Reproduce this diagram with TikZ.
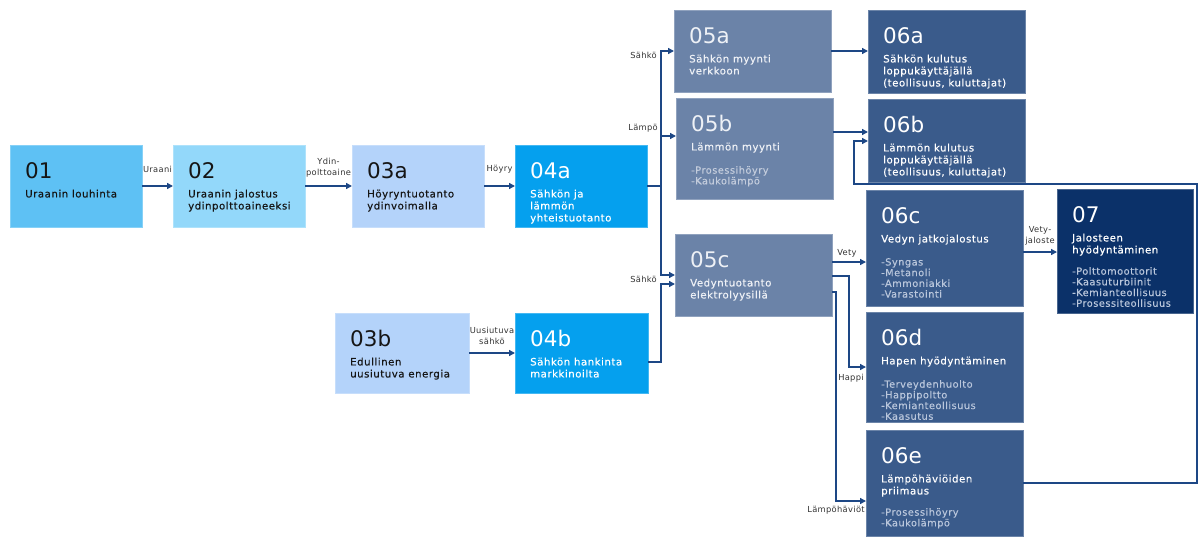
\documentclass[tikz,border=0pt]{standalone}
\usepackage{fontspec}
\setmainfont{DejaVu Sans}
\newfontfamily\lblfont[LetterSpace=5,FakeBold=0.3]{DejaVu Sans}
\newfontfamily\edgefont[LetterSpace=4]{DejaVu Sans}
\usetikzlibrary{arrows.meta,calc}
\definecolor{cA}{HTML}{5EC1F4}
\definecolor{cB}{HTML}{93D8FA}
\definecolor{cC}{HTML}{B4D3FA}
\definecolor{cD}{HTML}{05A0EE}
\definecolor{cE}{HTML}{6B83A8}
\definecolor{cF}{HTML}{3A5B8B}
\definecolor{cG}{HTML}{0B3169}
\definecolor{carrow}{HTML}{1D4785}
\definecolor{ctxt}{HTML}{151515}
\definecolor{celbl}{HTML}{333333}
\definecolor{cwE}{HTML}{EEF1F6}
\definecolor{clistE}{HTML}{C3CCDC}
\definecolor{clistF}{HTML}{BAC7DC}
\newcommand\bx[6]{\node[box, fill=#6, draw=#6!75!white, minimum width=#4pt, minimum height=#5pt] (#1) at (#2,#3) {};}
\newcommand\bnum[3]{\node[num, text=#3] (#1n) at ($(#1.north west)+(15,33)$) {#2};}
\newcommand\blbl[3]{\node[lbl, text=#3] (#1l) at ($(#1.north west)+(15,44.5)$) {#2};}
\newcommand\blst[4]{\node[lst, text=#4] (#1s) at ($(#1.north west)+(15,#2)$) {#3};}
\tikzset{
  box/.style={rectangle, inner sep=0pt, outer sep=0pt, anchor=north west, line width=0.7pt},
  num/.style={anchor=base west, inner sep=0pt, font=\fontsize{21.5}{21.5}\selectfont},
  lbl/.style={anchor=north west, inner sep=0pt, align=left, font=\lblfont\fontsize{10.2}{12}\selectfont},
  lst/.style={anchor=north west, inner sep=0pt, align=left, font=\lblfont\fontsize{9.8}{10.7}\selectfont},
  elbl/.style={inner sep=0pt, align=center, text=celbl, font=\edgefont\fontsize{8.3}{11}\selectfont},
  line/.style={draw=carrow, line width=1.4pt},
  arr/.style={line, -{Triangle[length=6pt,width=6pt]}}
}
\begin{document}
\begin{tikzpicture}[x=1pt,y=-1pt]
\useasboundingbox (0,0) rectangle (1199,536);
% boxes
\bx{b01}{10}{145}{132}{82}{cA}
\bnum{b01}{01}{ctxt}
\blbl{b01}{Uraanin louhinta}{ctxt}
\bx{b02}{173}{145}{132}{82}{cB}
\bnum{b02}{02}{ctxt}
\blbl{b02}{Uraanin jalostus\\ydinpolttoaineeksi}{ctxt}
\bx{b03a}{352}{145}{132}{82}{cC}
\bnum{b03a}{03a}{ctxt}
\blbl{b03a}{Höyryntuotanto\\ydinvoimalla}{ctxt}
\bx{b04a}{515}{145}{132}{82}{cD}
\bnum{b04a}{04a}{white}
\blbl{b04a}{Sähkön ja\\lämmön\\yhteistuotanto}{white}
\bx{b03b}{335}{313}{134}{80}{cC}
\bnum{b03b}{03b}{ctxt}
\blbl{b03b}{Edullinen\\uusiutuva energia}{ctxt}
\bx{b04b}{515}{313}{133}{80}{cD}
\bnum{b04b}{04b}{white}
\blbl{b04b}{Sähkön hankinta\\markkinoilta}{white}
\bx{b05a}{674}{10}{157}{82}{cE}
\bnum{b05a}{05a}{cwE}
\blbl{b05a}{Sähkön myynti\\verkkoon}{cwE}
\bx{b05b}{676}{98}{157}{101}{cE}
\bnum{b05b}{05b}{cwE}
\blbl{b05b}{Lämmön myynti}{cwE}
\blst{b05b}{68}{-Prosessihöyry\\-Kaukolämpö}{clistE}
\bx{b05c}{675}{234}{157}{82}{cE}
\bnum{b05c}{05c}{cwE}
\blbl{b05c}{Vedyntuotanto\\elektrolyysillä}{cwE}
\bx{b06a}{868}{10}{157}{83}{cF}
\bnum{b06a}{06a}{white}
\blbl{b06a}{Sähkön kulutus\\loppukäyttäjällä\\(teollisuus, kuluttajat)}{white}
\bx{b06b}{868}{99}{157}{83}{cF}
\bnum{b06b}{06b}{white}
\blbl{b06b}{Lämmön kulutus\\loppukäyttäjällä\\(teollisuus, kuluttajat)}{white}
\bx{b06c}{866}{190}{157}{116}{cF}
\bnum{b06c}{06c}{white}
\blbl{b06c}{Vedyn jatkojalostus}{white}
\blst{b06c}{68}{-Syngas\\-Metanoli\\-Ammoniakki\\-Varastointi}{clistF}
\bx{b06d}{866}{312}{157}{110}{cF}
\bnum{b06d}{06d}{white}
\blbl{b06d}{Hapen hyödyntäminen}{white}
\blst{b06d}{68}{-Terveydenhuolto\\-Happipoltto\\-Kemianteollisuus\\-Kaasutus}{clistF}
\bx{b06e}{866}{430}{157}{106}{cF}
\bnum{b06e}{06e}{white}
\blbl{b06e}{Lämpöhäviöiden\\priimaus}{white}
\blst{b06e}{78}{-Prosessihöyry\\-Kaukolämpö}{clistF}
\bx{b07}{1057}{189}{136}{124}{cG}
\bnum{b07}{07}{white}
\blbl{b07}{Jalosteen\\hyödyntäminen}{white}
\blst{b07}{78}{-Polttomoottorit\\-Kaasuturbiinit\\-Kemianteollisuus\\-Prosessiteollisuus}{clistF}
% connectors
\coordinate (bus) at ($(b04a.east)+(14,0)$);
\draw[arr] (b01.east) -- (b02.west);
\draw[arr] (b02.east) -- (b03a.west);
\draw[arr] (b03a.east) -- (b04a.west);
\draw[arr] (b03b.east) -- (b04b.west);
\draw[line] (b04a.east) -- (bus);
\draw[arr] (bus) |- (b05a.west);
\draw[arr] (bus) |- ($(b05b.north west)+(0,38)$);
\draw[arr] (bus) |- (b05c.west);
\draw[arr] ($(b04b.east)+(0,9)$) -| ($(bus |- b05c.west)+(0,9)$) -- ($(b05c.west)+(0,9)$);
\draw[arr] (b05a.east) -- (b05a.east -| b06a.west);
\coordinate (p5b) at ($(b05b.north east)+(0,34)$);
\draw[arr] (p5b) -- (p5b -| b06b.west);
\coordinate (pv) at ($(b05c.north east)+(0,28)$);
\draw[arr] (pv) -- (pv -| b06c.west);
\draw[arr] ($(b05c.north east)+(0,42)$) -| ($(b06d.west)+(-17,0)$) -- (b06d.west);
\draw[arr] ($(b05c.north east)+(0,58)$) -| ($(b06e.north west)+(-30,71)$) -- ($(b06e.north west)+(0,71)$);
\coordinate (loop) at (1197,184);
\draw[arr] (b06e.east) -| (loop) -| ($(b06b.north west)+(-14,42)$) -- ($(b06b.north west)+(0,42)$);
\coordinate (pj) at ($(b06c.north east)+(0,62)$);
\draw[arr] (pj) -- (pj -| b07.west);
% connector labels
\node[elbl] (lU) at ($(b01.east)!0.5!(b02.west)+(0,-17)$) {Uraani};
\node[elbl] (lY) at ($(b02.east)!0.5!(b03a.west)+(0,-18)$) {Ydin-\\polttoaine};
\node[elbl] (lHo) at ($(b03a.east)!0.5!(b04a.west)+(0,-17)$) {Höyry};
\node[elbl] (lUs) at ($(b03b.east)!0.5!(b04b.west)+(0,-17)$) {Uusiutuva\\sähkö};
\node[elbl, anchor=east] (lS1) at ($(bus |- b05a.west)+(-4,4)$) {Sähkö};
\node[elbl, anchor=east] (lL) at ($(bus |- b05b.north west)+(-3,30)$) {Lämpö};
\node[elbl, anchor=east] (lS2) at ($(bus |- b05c.west)+(-4,4)$) {Sähkö};
\node[elbl] (lV) at ($(pv -| b06c.west)+(-19,-9)$) {Vety};
\node[elbl] (lH) at ($(b06d.west)+(-15,11)$) {Happi};
\node[elbl] (lLH) at ($(b06e.north west)+(-30,80)$) {Lämpöhäviöt};
\node[elbl] (lVJ) at ($(pj)!0.5!(pj -| b07.west)+(0,-16)$) {Vety-\\jaloste};
\end{tikzpicture}
\end{document}
